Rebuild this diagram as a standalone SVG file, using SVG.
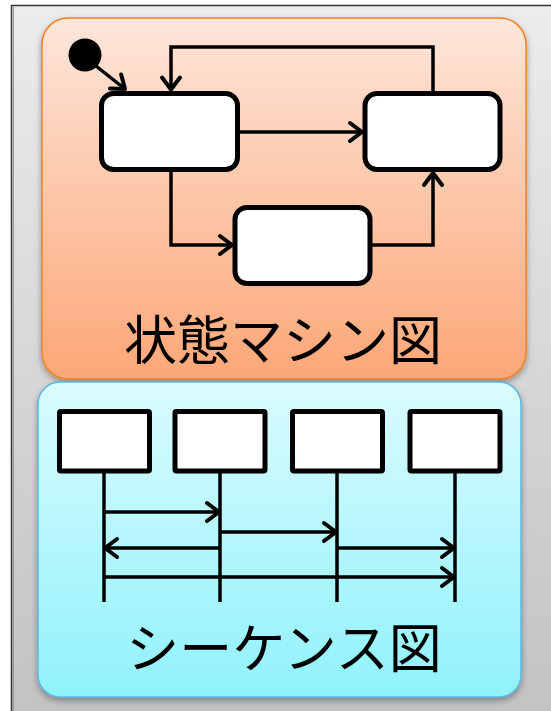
<svg xmlns="http://www.w3.org/2000/svg" width="551" height="711" viewBox="0 0 551 711">
<defs>
<linearGradient id="gFrame" x1="0" y1="0" x2="0" y2="1"><stop offset="0" stop-color="#ececec"/><stop offset="1" stop-color="#c2c2c2"/></linearGradient>
<linearGradient id="gOrange" x1="0" y1="0" x2="0" y2="1"><stop offset="0" stop-color="#fde6da"/><stop offset="1" stop-color="#fca777"/></linearGradient>
<linearGradient id="gCyan" x1="0" y1="0" x2="0" y2="1"><stop offset="0" stop-color="#dafbfe"/><stop offset="1" stop-color="#90f2fb"/></linearGradient>
<filter id="shadow" x="-10%" y="-10%" width="120%" height="120%"><feGaussianBlur in="SourceAlpha" stdDeviation="3"/><feOffset dx="0" dy="3" result="b"/><feComponentTransfer><feFuncA type="linear" slope="0.35"/></feComponentTransfer><feMerge><feMergeNode/><feMergeNode in="SourceGraphic"/></feMerge></filter>
<marker id="arr" markerUnits="userSpaceOnUse" markerWidth="20" markerHeight="26" viewBox="-15 -13 18 26" refX="0" refY="0" orient="auto">
<path d="M-12,-9 L0,0 L-12,9" fill="none" stroke="#000" stroke-width="4" stroke-linecap="round" stroke-linejoin="round"/>
</marker>
</defs>
<style>
.state{fill:#fff;stroke:#000;stroke-width:5}
.obj{fill:#fff;stroke:#000;stroke-width:5}
.conn{fill:none;stroke:#000;stroke-width:3.5}
.life{fill:none;stroke:#000;stroke-width:3.5}
.label{font-family:"Noto Sans CJK JP","Noto Sans CJK SC",sans-serif;font-size:53px;fill:#000;text-anchor:middle}
</style>
<rect x="0" y="0" width="551" height="711" fill="#fff"/>
<g id="frame">
<rect x="11.5" y="5.5" width="560" height="720" fill="url(#gFrame)" stroke="#333" stroke-width="1.5"/>
<line x1="13.5" y1="7" x2="13.5" y2="711" stroke="#999" stroke-width="1"/>
</g>
<g id="state-machine-panel">
<rect x="42" y="18" width="484" height="361" rx="26" fill="url(#gOrange)" stroke="#f48024" stroke-width="1.5" filter="url(#shadow)"/>
<text class="label" x="283" y="360">状態マシン図</text>
</g>
<g id="sequence-panel">
<rect x="38" y="382" width="483" height="315" rx="22" fill="url(#gCyan)" stroke="#5bb8de" stroke-width="1.5" filter="url(#shadow)"/>
<text class="label" x="284" y="668">シーケンス図</text>
</g>
<g id="initial"><circle cx="85" cy="55" r="16.5" fill="#000"/></g>
<g id="state1"><rect class="state" x="101.5" y="93.5" width="136" height="76" rx="12"/></g>
<g id="state2"><rect class="state" x="365" y="93.5" width="135" height="76" rx="12"/></g>
<g id="state3"><rect class="state" x="235" y="207.5" width="135" height="76" rx="12"/></g>
<g id="obj1"><rect class="obj" x="59.5" y="411.5" width="90" height="59.5" rx="1.5"/></g>
<g id="obj2"><rect class="obj" x="175" y="411.5" width="90" height="59.5" rx="1.5"/></g>
<g id="obj3"><rect class="obj" x="292.5" y="411.5" width="90" height="59.5" rx="1.5"/></g>
<g id="obj4"><rect class="obj" x="410" y="411.5" width="90" height="59.5" rx="1.5"/></g>
<g id="lifelines">
<line class="life" x1="104" y1="473" x2="104" y2="602"/>
<line class="life" x1="220" y1="473" x2="220" y2="602"/>
<line class="life" x1="337" y1="473" x2="337" y2="602"/>
<line class="life" x1="455" y1="473" x2="455" y2="602"/>
</g>
<g id="connectors">
<path class="conn" d="M96,66 L125,89" marker-end="url(#arr)"/>
<path class="conn" d="M433,92 V47 H171 V89.5" marker-end="url(#arr)"/>
<path class="conn" d="M240,132 H362" marker-end="url(#arr)"/>
<path class="conn" d="M171,172 V245 H232" marker-end="url(#arr)"/>
<path class="conn" d="M372,245 H433 V173" marker-end="url(#arr)"/>
<path class="conn" d="M104,512 H219" marker-end="url(#arr)"/>
<path class="conn" d="M220,532 H336" marker-end="url(#arr)"/>
<path class="conn" d="M220,548 H105" marker-end="url(#arr)"/>
<path class="conn" d="M337,548 H454" marker-end="url(#arr)"/>
<path class="conn" d="M104,577 H454" marker-end="url(#arr)"/>
</g>
</svg>
